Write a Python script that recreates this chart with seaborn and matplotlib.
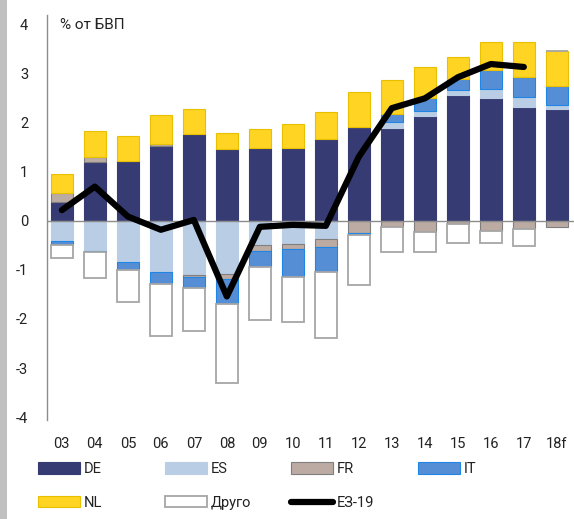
import numpy as np
import pandas as pd
import matplotlib.pyplot as plt
import seaborn as sns
from matplotlib.patches import Patch, Rectangle
from matplotlib.lines import Line2D

years = ['03', '04', '05', '06', '07', '08', '09', '10', '11', '12', '13', '14', '15', '16', '17', '18f']
DE = [0.39, 1.21, 1.22, 1.53, 1.78, 1.46, 1.48, 1.48, 1.67, 1.92, 1.90, 2.14, 2.57, 2.50, 2.32, 2.28]
ES = [-0.40, -0.61, -0.83, -1.05, -1.11, -1.08, -0.50, -0.47, -0.37, 0.0, 0.12, 0.10, 0.10, 0.19, 0.20, 0.08]
FR = [0.17, 0.10, 0.0, 0.04, -0.03, -0.11, -0.11, -0.10, -0.17, -0.24, -0.12, -0.22, -0.06, -0.20, -0.16, -0.12]
IT = [-0.10, -0.03, -0.18, -0.24, -0.22, -0.51, -0.32, -0.58, -0.51, -0.04, 0.17, 0.26, 0.23, 0.39, 0.41, 0.40]
NL = [0.40, 0.53, 0.51, 0.59, 0.50, 0.34, 0.40, 0.50, 0.56, 0.71, 0.68, 0.63, 0.44, 0.56, 0.71, 0.70]
OTHER = [-0.26, -0.53, -0.65, -1.06, -0.88, -1.61, -1.09, -0.92, -1.33, -1.03, -0.51, -0.41, -0.38, -0.24, -0.36, 0.0]
EA19 = [0.22, 0.70, 0.09, -0.18, 0.02, -1.54, -0.12, -0.08, -0.10, 1.31, 2.30, 2.50, 2.93, 3.20, 3.14, np.nan]

series = [
    ('DE', DE, '#363b73', '#363b73'),
    ('ES', ES, '#b9cde5', '#b9cde5'),
    ('FR', FR, '#bcaba3', '#7f7f7f'),
    ('IT', IT, '#558ed5', '#1f86e6'),
    ('NL', NL, '#ffd422', '#e8c000'),
    ('Друго', OTHER, '#ffffff', '#a6a6a6'),
]

sns.set_style('white')
plt.rcParams['font.family'] = ['Roboto', 'DejaVu Sans']
txt = '#222222'

fig = plt.figure(figsize=(5.74, 5.19), dpi=100)
fig.patches.append(Rectangle((0, 0), 7 / 574, 1, transform=fig.transFigure,
                             facecolor='#c0c0c0', edgecolor='none', zorder=0))
ax = fig.add_axes([47 / 574, 1 - 420 / 519, 1 - 47 / 574, 405 / 519])

x = np.arange(len(years))
pos_bottom = np.zeros(len(years))
neg_bottom = np.zeros(len(years))
for name, vals, fc, ec in series:
    v = np.array(vals)
    bottom = np.where(v >= 0, pos_bottom, neg_bottom)
    lw = 1.3 if name == 'Друго' else 0.8
    ax.bar(x, v, width=0.667, bottom=bottom, color=fc, edgecolor=ec, linewidth=lw, zorder=2)
    pos_bottom = pos_bottom + np.clip(v, 0, None)
    neg_bottom = neg_bottom + np.clip(v, None, 0)

line_df = pd.DataFrame({'x': x, 'y': EA19}).dropna()
sns.lineplot(data=line_df, x='x', y='y', color='black', linewidth=4.5, ax=ax,
             zorder=4, estimator=None, sort=False, solid_capstyle='round')

ax.axhline(0, color='#8c8c8c', linewidth=1, zorder=3)
ax.set_xlim(-0.45, 15.52)
ax.set_ylim(-4.06, 4.2)
ax.set_xticks(x)
ax.set_xticklabels(years)
ax.set_yticks(range(-4, 5))
ax.set_yticklabels([str(t) for t in range(-4, 5)])
ax.tick_params(axis='x', length=0, pad=12.5, labelsize=10.5, colors=txt)
ax.tick_params(axis='y', length=0, pad=13.5, labelsize=10.5, colors=txt)
ax.set_xlabel('')
ax.set_ylabel('')
for s in ['top', 'right', 'bottom']:
    ax.spines[s].set_visible(False)
ax.spines['left'].set_color('#8c8c8c')
ax.spines['left'].set_linewidth(1)

ax.text(-0.06, 3.99, '% от БВП', ha='left', va='center', fontsize=11, color=txt)

# legend, one block per column like the Excel layout
handles = {name: Patch(facecolor=fc, edgecolor=ec, linewidth=1.3 if name == 'Друго' else 0.8)
           for name, _, fc, ec in series}
handles['ЕЗ-19'] = Line2D([0], [0], color='black', linewidth=4.5, solid_capstyle='round')
columns = [['DE', 'NL'], ['ES', 'Друго'], ['FR', 'ЕЗ-19'], ['IT']]
col_x = [38, 165, 291, 418]
for names, cx in zip(columns, col_x):
    fig.legend([handles[n] for n in names], names, loc='upper left',
               bbox_to_anchor=(cx / 574, 1 - 462 / 519), frameon=False,
               fontsize=10.5, labelcolor=txt, handlelength=2.9, handleheight=0.8,
               handletextpad=0.25, labelspacing=1.37, borderpad=0, borderaxespad=0)

fig.savefig('out.png', dpi=100)
